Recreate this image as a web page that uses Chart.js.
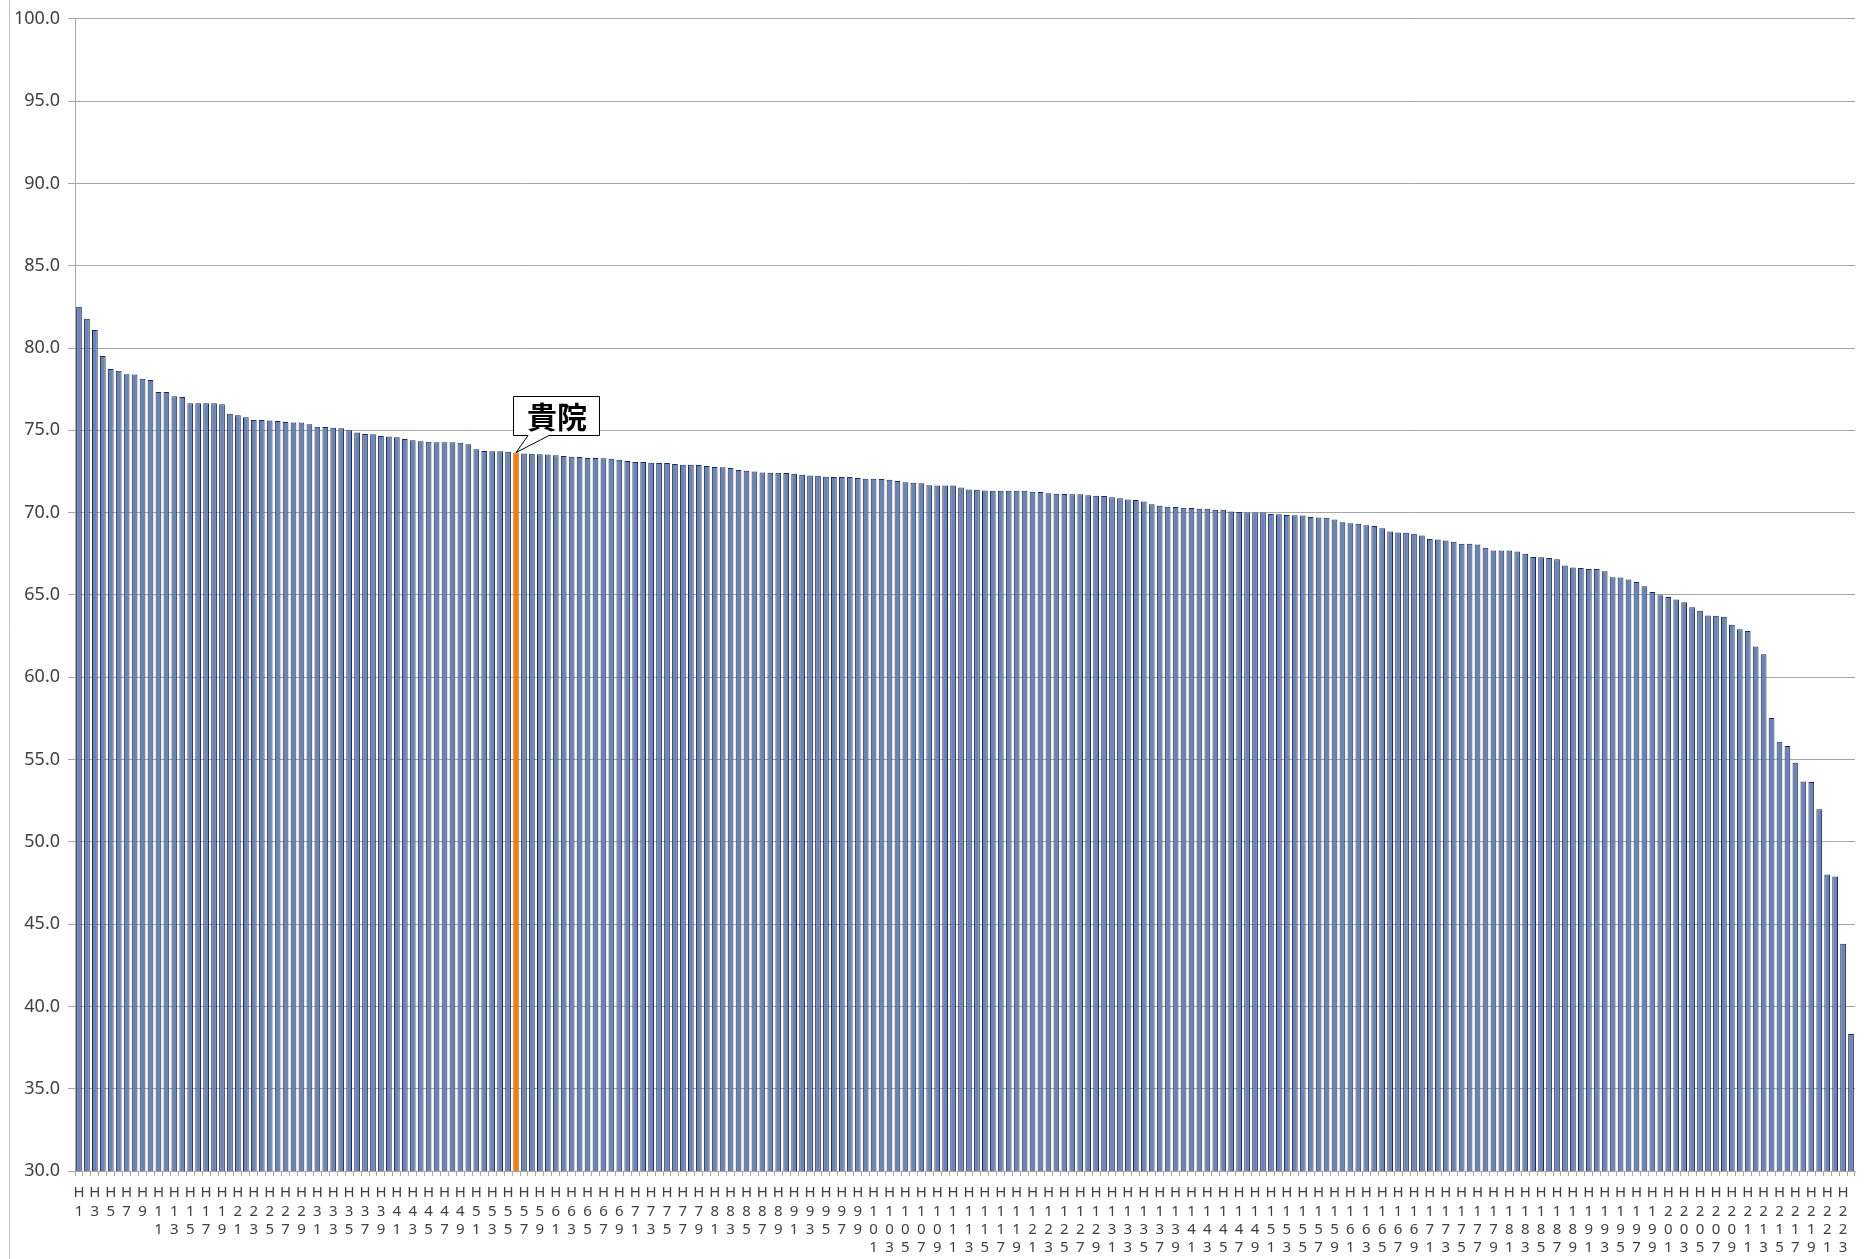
<!DOCTYPE html>
<html><head><meta charset="utf-8">
<script src="https://cdn.jsdelivr.net/npm/chart.js@4.4.1/dist/chart.umd.min.js"></script>
<style>html,body{margin:0;padding:0;background:#fff;}canvas{display:block;}</style>
</head><body>
<canvas id="c" width="1865" height="1259"></canvas>
<script>
// Series values (sorted, descending) in segments
const valuesA = [82.50,81.77,81.10,79.51,78.72,78.62,78.41,78.39,78.13,78.05,77.32,77.32,77.07,77.03,76.65,76.65,76.65,76.65,76.59,76.00,75.91,75.79,75.63,75.63,75.59,75.57,75.51,75.47,75.47,75.37,75.22,75.20,75.16,75.12];
const valuesB = [75.00,74.86,74.78,74.76,74.66,74.62,74.58,74.47,74.40,74.33,74.31,74.27,74.27,74.27,74.25,74.15,73.85,73.75,73.73,73.73,73.69,73.65,73.59,73.57,73.55,73.53,73.48,73.44,73.40,73.38,73.32,73.32];
const valuesC = [73.30,73.27,73.21,73.13,73.07,73.07,73.03,73.01,73.01,72.95,72.91,72.91,72.89,72.83,72.77,72.75,72.71,72.59,72.55,72.50,72.44,72.42,72.42,72.40,72.36,72.30,72.26,72.24,72.18,72.16,72.16,72.16,72.10];
const valuesD = [72.06,72.06,72.04,72.00,71.92,71.84,71.82,71.78,71.66,71.64,71.64,71.64,71.52,71.41,71.39,71.35,71.33,71.33,71.33,71.33,71.33,71.27,71.25,71.17,71.15,71.13,71.11,71.11,71.05,71.03,71.01,70.93,70.87];
const valuesE = [70.79,70.77,70.67,70.50,70.42,70.36,70.34,70.30,70.28,70.24,70.24,70.18,70.18,70.06,70.04,70.00,70.00,70.00,69.92,69.90,69.86,69.84,69.82,69.74,69.70,69.68,69.58,69.41,69.35,69.33,69.23,69.19,69.05];
const valuesF = [68.85,68.79,68.77,68.71,68.61,68.39,68.37,68.31,68.23,68.10,68.10,68.06,67.86,67.70,67.70,67.70,67.64,67.50,67.30,67.28,67.24,67.16,66.79,66.67,66.63,66.57,66.57,66.43,66.07,66.05,65.93,65.79,65.52];
const valuesG = [65.18,64.98,64.88,64.72,64.56,64.25,64.03,63.75,63.73,63.67,63.18,62.92,62.80,61.86,61.40,57.52,56.08,55.82,54.81,53.67,53.63,51.97,48.01,47.89,43.80,38.32];
const values = [].concat(valuesA, valuesB, valuesC, valuesD, valuesE, valuesF, valuesG);

// Categories: hospital codes H1 ... H224
const categories = values.map((v, i) => 'H' + (i + 1));
const highlightCategory = 'H56';
const highlightText = '貴院';

// Y axis ticks
const yMin = 30, yMax = 100, yStep = 5;

const hi = categories.indexOf(highlightCategory);

const borderPlugin = {
  id: 'leftBorder',
  beforeDraw(chart) {
    const c = chart.ctx;
    c.save();
    c.strokeStyle = '#c6c6c6';
    c.lineWidth = 1;
    c.beginPath();
    c.moveTo(9.5, 0);
    c.lineTo(9.5, chart.height);
    c.stroke();
    c.restore();
  }
};

const calloutPlugin = {
  id: 'callout',
  afterDatasetsDraw(chart) {
    const el = chart.getDatasetMeta(0).data[hi];
    if (!el) return;
    const tx = el.x, ty = el.y;
    const left = Math.round(tx - 3), right = Math.round(tx + 83), top = Math.round(ty - 57), bottom = Math.round(ty - 18);
    const c = chart.ctx;
    c.save();
    c.beginPath();
    c.moveTo(left + 0.5, top + 0.5);
    c.lineTo(right + 0.5, top + 0.5);
    c.lineTo(right + 0.5, bottom + 0.5);
    c.lineTo(tx + 33, bottom + 0.5);
    c.lineTo(tx, ty);
    c.lineTo(tx + 12, bottom + 0.5);
    c.lineTo(left + 0.5, bottom + 0.5);
    c.closePath();
    c.fillStyle = '#ffffff';
    c.fill();
    c.strokeStyle = '#000000';
    c.lineWidth = 1;
    c.stroke();
    c.fillStyle = '#000000';
    c.font = 'bold 30px "Noto Sans CJK JP"';
    c.textAlign = 'center';
    c.textBaseline = 'middle';
    c.fillText(highlightText, (left + right) / 2 + 1, (top + bottom) / 2 + 1);
    c.restore();
  }
};

new Chart(document.getElementById('c').getContext('2d'), {
  type: 'bar',
  data: {
    labels: categories,
    datasets: [{
      data: values,
      backgroundColor: ctx => ctx.dataIndex === hi ? '#ee7a14' : '#6f84ad',
      borderColor: ctx => ctx.dataIndex === hi ? '#e46c0a' : '#142c66',
      borderWidth: 1,
      barPercentage: 0.72,
      categoryPercentage: 1.0
    }]
  },
  options: {
    responsive: false,
    animation: false,
    devicePixelRatio: 1,
    layout: { padding: { left: 0, right: 10, top: 16, bottom: 0 } },
    plugins: { legend: { display: false }, tooltip: { enabled: false } },
    scales: {
      x: {
        grid: { display: true, drawOnChartArea: false, drawTicks: true, tickLength: 5, color: '#a6a6a6', offset: true },
        border: { color: '#a6a6a6' },
        ticks: {
          autoSkip: false, maxRotation: 0, minRotation: 0, padding: 8,
          color: '#404040',
          font: { family: '"Noto Sans", "DejaVu Sans", sans-serif', size: 15, lineHeight: 1.22 },
          callback: (v, i) => (i % 2 === 0 ? categories[i].split('') : '')
        },
        afterFit: s => { s.height = 88; }
      },
      y: {
        min: yMin, max: yMax,
        ticks: {
          stepSize: yStep, padding: 8, color: '#404040',
          font: { family: '"Noto Sans", "DejaVu Sans", sans-serif', size: 18 },
          callback: v => Number(v).toFixed(1)
        },
        grid: { color: '#a6a6a6', tickLength: 7 },
        border: { color: '#a6a6a6' },
        afterFit: s => { s.width = 75; }
      }
    }
  },
  plugins: [borderPlugin, calloutPlugin]
});
</script>
</body></html>
